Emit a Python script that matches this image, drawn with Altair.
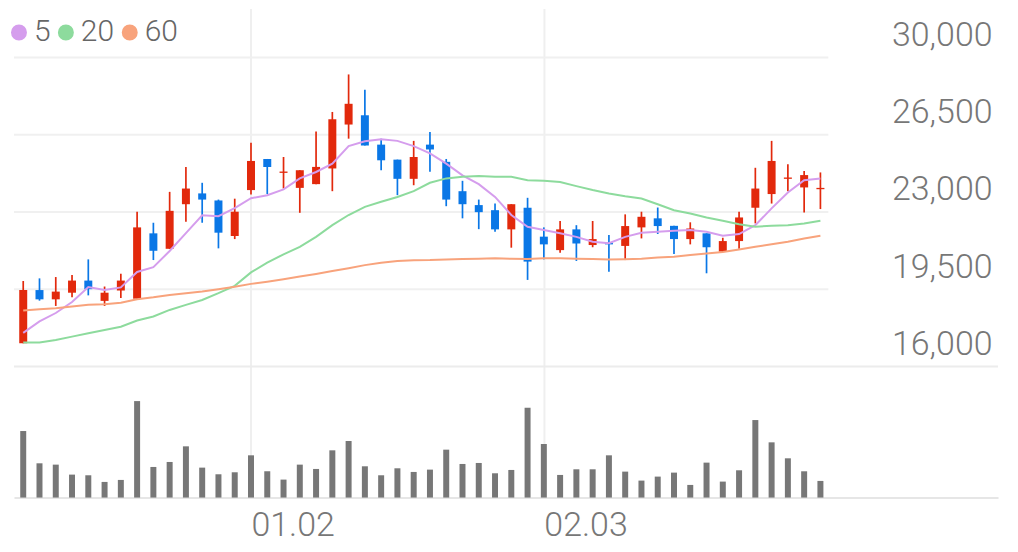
import altair as alt
import pandas as pd

# ---------------- data ----------------
opens = [17050, 19460, 19040, 19340, 19890, 18970, 19440, 19070, 22030, 21330,
         23350, 23840, 23520, 21910, 23990, 25400, 24770, 24090, 24260, 24970,
         26960, 27380, 26050, 25370, 24500, 26050, 25270, 23940, 23310, 23080,
         22210, 23190, 21880, 21270, 22210, 21500, 21610, 21460, 22300, 22710,
         22370, 21770, 22030, 21200, 21680, 23190, 23810, 24500, 24110, 24030]
highs = [19870, 19990, 20050, 20140, 20850, 19620, 20200, 23010, 22510, 23910,
         25040, 24320, 23560, 23600, 26130, 25400, 25490, 24890, 26650, 27530,
         29230, 28540, 26320, 25370, 26220, 26620, 25400, 24410, 23560, 23380,
         23350, 23640, 22300, 22590, 22400, 22590, 21950, 22890, 23010, 23200,
         22370, 22530, 22030, 21830, 23010, 25000, 26220, 25160, 24850, 24790]
lows = [17050, 18980, 18740, 19130, 19220, 18740, 19100, 19070, 20820, 21330,
        22560, 22510, 21350, 21770, 23790, 23810, 24060, 22960, 24260, 23940,
        26320, 26010, 24890, 23760, 24210, 24820, 23260, 22710, 22220, 22100,
        21380, 19920, 20850, 21150, 20780, 21400, 20290, 20820, 21800, 22000,
        21090, 21530, 20220, 21200, 21330, 22480, 23380, 23940, 22980, 23130]
closes = [19460, 19040, 19390, 19890, 19500, 19340, 19890, 22300, 21240, 23050,
          24060, 23560, 22060, 23010, 25310, 25040, 24830, 24890, 25040, 27200,
          27900, 26010, 25340, 24500, 25490, 25830, 23560, 23350, 22990, 22210,
          23350, 20750, 21530, 22210, 21570, 21770, 21530, 22360, 22780, 22360,
          21770, 22250, 21400, 21680, 22750, 24060, 25310, 24560, 24670, 24090]
volumes = [200000, 103000, 99000, 69000, 67000, 47000, 53000, 290000, 92000, 107000,
           154000, 90000, 70000, 76000, 127000, 79000, 54000, 99000, 86000, 142000,
           170000, 94000, 67000, 88000, 77000, 84000, 144000, 101000, 104000, 73000,
           83000, 270000, 161000, 68000, 85000, 85000, 127000, 78000, 51000, 63000,
           75000, 38000, 105000, 48000, 82000, 233000, 166000, 118000, 79000, 50000]
ma5 = [17520, 18040, 18420, 18920, 19600, 19460, 19580, 20280, 20500, 21230,
       22040, 22850, 22810, 23170, 23620, 23760, 24020, 24520, 24810, 25190,
       25980, 26200, 26290, 26220, 25980, 25650, 25190, 24660, 24260, 23680,
       22860, 22330, 22180, 22030, 21870, 21650, 21580, 21870, 22060, 22100,
       22150, 22180, 22100, 21920, 22000, 22400, 23160, 23880, 24440, 24520]
ma20 = [17080, 17080, 17200, 17350, 17500, 17650, 17800, 18080, 18260, 18560,
        18790, 19010, 19320, 19650, 20260, 20700, 21080, 21420, 21870, 22400,
        22860, 23230, 23460, 23680, 23940, 24320, 24520, 24590, 24630, 24590,
        24590, 24440, 24410, 24360, 24170, 23990, 23840, 23710, 23610, 23350,
        23080, 22930, 22750, 22600, 22440, 22330, 22370, 22400, 22480, 22600]
ma60 = [18530, 18590, 18640, 18710, 18790, 18820, 18890, 19040, 19130, 19240,
        19320, 19390, 19500, 19610, 19740, 19840, 19950, 20070, 20190, 20320,
        20450, 20590, 20700, 20780, 20810, 20820, 20850, 20870, 20880, 20900,
        20880, 20870, 20900, 20900, 20880, 20870, 20850, 20860, 20880, 20930,
        20970, 21050, 21120, 21180, 21300, 21420, 21540, 21650, 21800, 21920]
ma_periods = ["5", "20", "60"]
ma_colors = ["#d59ded", "#8ddb9d", "#f8a37c"]
date_labels = ["01.02", "02.03"]
date_positions = [14, 32]
price_ticks = [16000, 19500, 23000, 26500, 30000]

UP_COLOR = "#e2290c"
DOWN_COLOR = "#0a77e6"
FONT = "Roboto"

# ---------------- tables ----------------
n = len(closes)
candles = pd.DataFrame({
    "i": list(range(n)), "open": opens, "high": highs, "low": lows,
    "close": closes, "volume": volumes,
})
candles["col"] = [UP_COLOR if c >= o else DOWN_COLOR for o, c in zip(opens, closes)]

ma_df = pd.DataFrame({
    "i": list(range(n)) * 3,
    "ma": [p for p in ma_periods for _ in range(n)],
    "value": ma5 + ma20 + ma60,
})
grid_df = pd.DataFrame({"price": price_ticks[1:]})
base_df = pd.DataFrame({"price": price_ticks[:1]})

W, H = 986, 490
xscale = alt.Scale(domain=[-0.261, 59.61], nice=False, zero=False)
pscale = alt.Scale(domain=[10058, 32216], nice=False, zero=False)
vscale = alt.Scale(domain=[0, 1470000], nice=False, zero=True)

label_expr = " : ".join(
    f"datum.value == {p} ? '{l}'" for p, l in zip(date_positions, date_labels)
) + " : ''"

xaxis = alt.Axis(
    values=date_positions, labelExpr=label_expr, title=None,
    grid=True, gridColor="#efefef", gridWidth=2,
    ticks=False, domain=True, domainColor="#e6e6e6", domainWidth=2,
    labelFont=FONT, labelFontSize=34, labelFontWeight=300, labelColor="#777777",
    labelAlign="left", labelBaseline="top", labelPadding=11, labelFlush=False,
)
yaxis = alt.Axis(
    orient="right", values=price_ticks, format=",d", title=None,
    grid=False, ticks=False, domain=False,
    labelFont=FONT, labelFontSize=34, labelFontWeight=300, labelColor="#777777",
    labelAlign="right", labelBaseline="alphabetic", labelPadding=-6, labelOffset=-12,
)

X = alt.X("i:Q", scale=xscale, axis=xaxis)

grid = alt.Chart(grid_df).mark_rule(color="#f0f0f0", strokeWidth=2).encode(
    y=alt.Y("price:Q", scale=pscale, axis=yaxis),
    x=alt.value(0), x2=alt.value(816),
)
base = alt.Chart(base_df).mark_rule(color="#ececec", strokeWidth=2).encode(
    y=alt.Y("price:Q", scale=pscale, axis=yaxis),
    x=alt.value(0), x2=alt.value(W),
)
wick = alt.Chart(candles).mark_rule(strokeWidth=1.7).encode(
    x=X,
    y=alt.Y("low:Q", scale=pscale, axis=yaxis),
    y2="high:Q",
    color=alt.Color("col:N", scale=None),
)
body = alt.Chart(candles).mark_bar(size=8).encode(
    x=X,
    y=alt.Y("open:Q", scale=pscale, axis=yaxis),
    y2="close:Q",
    color=alt.Color("col:N", scale=None),
)
lines = alt.Chart(ma_df).mark_line(strokeWidth=2).encode(
    x=X,
    y=alt.Y("value:Q", scale=pscale, axis=yaxis),
    stroke=alt.Stroke(
        "ma:N",
        scale=alt.Scale(domain=ma_periods, range=ma_colors),
        legend=alt.Legend(
            title=None, orient="none", legendX=-10, legendY=9, direction="horizontal",
            symbolType="circle", symbolSize=64, symbolStrokeWidth=8, symbolOpacity=1,
            labelFont=FONT, labelFontSize=30, labelFontWeight=300, labelColor="#666666",
            labelOffset=0, columnPadding=-6, padding=0,
        ),
    ),
)
price = alt.layer(grid, base, wick, body, lines)

vol = alt.Chart(candles).mark_bar(size=6, color="#777777").encode(
    x=X,
    y=alt.Y("volume:Q", scale=vscale, axis=None),
)

chart = alt.layer(vol, price).resolve_scale(y="independent").properties(
    width=W, height=H,
    autosize=alt.AutoSizeParams(type="none"),
    padding={"left": 6, "top": 0, "right": 12, "bottom": 52},
).configure_view(stroke=None)

chart.save("out.html", embed_options={"renderer": "svg", "actions": False})
